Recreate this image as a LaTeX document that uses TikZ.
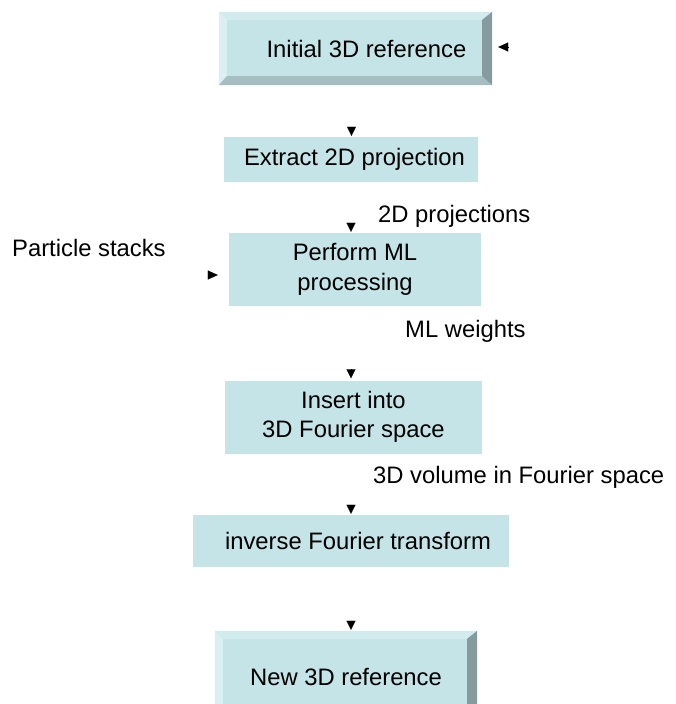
\documentclass[tikz,border=0pt]{standalone}
\usepackage{fontspec}
\setmainfont{Liberation Sans}
\usetikzlibrary{arrows.meta}
\definecolor{boxfill}{RGB}{197,228,232}
\definecolor{bevtop}{RGB}{210,235,238}
\definecolor{bevleft}{RGB}{218,239,241}
\definecolor{bevbot}{RGB}{166,190,193}
\definecolor{bevright}{RGB}{133,155,158}
\newcommand{\bevelize}[1]{%
  \fill[bevtop] (#1.north west) -- (#1.north east) -- ([shift={(-10pt,-8pt)}]#1.north east) -- ([shift={(8pt,-8pt)}]#1.north west) -- cycle;
  \fill[bevleft] (#1.north west) -- ([shift={(8pt,-8pt)}]#1.north west) -- ([shift={(8pt,9pt)}]#1.south west) -- (#1.south west) -- cycle;
  \fill[bevbot] (#1.south west) -- (#1.south east) -- ([shift={(-10pt,9pt)}]#1.south east) -- ([shift={(8pt,9pt)}]#1.south west) -- cycle;
  \fill[bevright] (#1.north east) -- (#1.south east) -- ([shift={(-10pt,9pt)}]#1.south east) -- ([shift={(-10pt,-8pt)}]#1.north east) -- cycle;
}
\tikzset{
  stepbox/.style={fill=boxfill, draw=none, inner sep=0pt, font=\fontsize{23.8}{29.5}\selectfont},
  lbl/.style={anchor=base west, inner sep=0pt, font=\fontsize{23.8}{29}\selectfont},
  tiponly/.style={-{Triangle[length=9pt,width=9pt]}, line width=0.1pt, black},
  tipside/.style={-{Triangle[length=10pt,width=9pt]}, line width=0.1pt, black},
}
\begin{document}
\begin{tikzpicture}[x=1pt,y=-1pt]
\clip (0,0) rectangle (675,704);
\fill[white] (0,0) rectangle (675,704);
% boxes
\node[stepbox, minimum width=273pt, minimum height=73pt] (b1) at (355.5,48.5) {\hspace*{22pt}Initial 3D reference};
\bevelize{b1}
\node[stepbox, minimum width=254pt, minimum height=45pt] (b2) at (351,159.5) {\hspace*{7pt}Extract 2D projection};
\node[stepbox, minimum width=252pt, minimum height=73pt, align=center] (b3) at (355,269.5) {Perform ML\\processing};
\node[stepbox, minimum width=257pt, minimum height=73pt, align=center] (b4) at (353.5,417) {Insert into\\3D Fourier space};
\node[stepbox, minimum width=316pt, minimum height=52pt] (b5) at (351,541) {\hspace*{14pt}inverse Fourier transform};
\node[stepbox, minimum width=262pt, minimum height=92pt] (b6) at (346,677) {New 3D reference};
\bevelize{b6}
% labels
\node[lbl] (l1) at (378,222) {2D projections};
\node[lbl] (l2) at (405,337) {ML weights};
\node[lbl] (l3) at (373,483) {3D volume in Fourier space};
\node[lbl] (l4) at (12,256) {Particle stacks};
% arrow heads (connector lines not shown)
\draw[tiponly] ([xshift=0.5pt,yshift=10pt]b2.north) -- ([xshift=0.5pt,yshift=1pt]b2.north);
\draw[tiponly] ([xshift=-4pt,yshift=10pt]b3.north) -- ([xshift=-4pt,yshift=1pt]b3.north);
\draw[tiponly] ([xshift=-2.5pt,yshift=11pt]b4.north) -- ([xshift=-2.5pt,yshift=2pt]b4.north);
\draw[tiponly] ([yshift=10pt]b5.north) -- ([yshift=1pt]b5.north);
\draw[tiponly] ([xshift=5pt,yshift=10pt]b6.north) -- ([xshift=5pt,yshift=1pt]b6.north);
\draw[tipside] ([shift={(16pt,1.5pt)}]b1.east) -- ([shift={(6pt,1.5pt)}]b1.east);
\draw[tipside] ([shift={(-21pt,-5.5pt)}]b3.west) -- ([shift={(-11pt,-5.5pt)}]b3.west);
\end{tikzpicture}
\end{document}
